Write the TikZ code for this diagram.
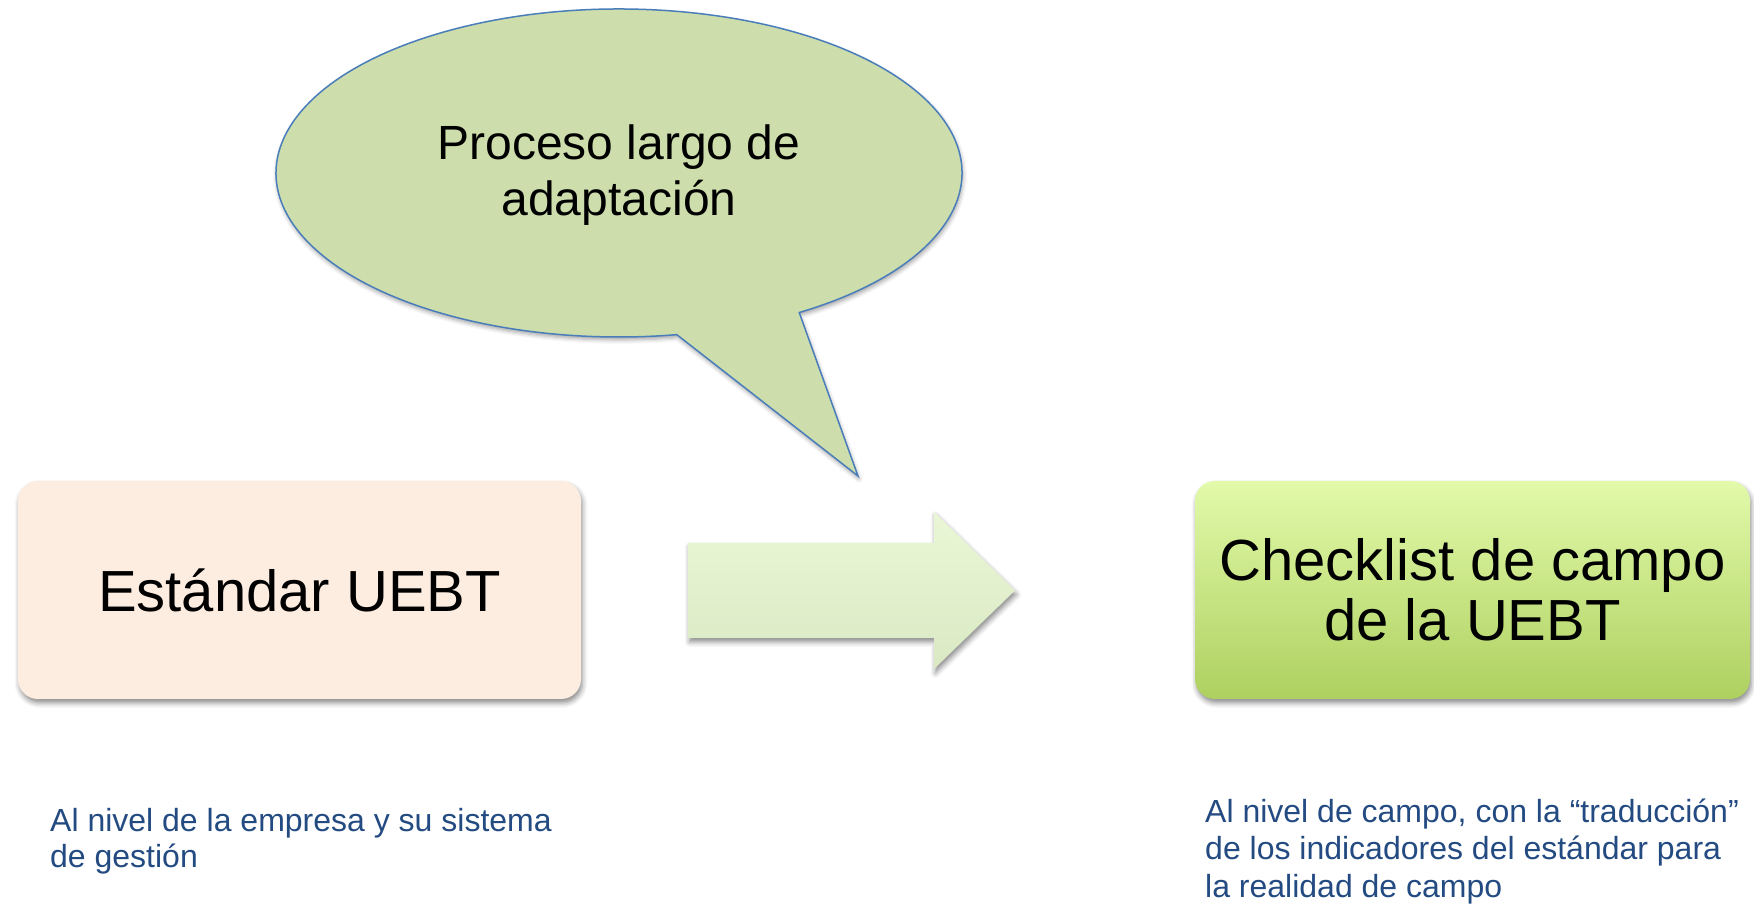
\documentclass[tikz,border=0pt]{standalone}
\usepackage{fontspec}
\setmainfont{Liberation Sans}
\usetikzlibrary{shadows.blur,calc}
\definecolor{boxpeach}{RGB}{253,237,225}
\definecolor{boxgreentop}{RGB}{226,250,170}
\definecolor{boxgreenbot}{RGB}{174,208,96}
\definecolor{bubblefill}{RGB}{205,221,171}
\definecolor{bubbleline}{RGB}{74,126,187}
\definecolor{arrowtop}{RGB}{234,247,214}
\definecolor{arrowbot}{RGB}{218,233,196}
\definecolor{notecolor}{RGB}{35,75,130}
\begin{document}
\begin{tikzpicture}[x=1pt,y=1pt,
  softshadow/.style={blur shadow={shadow xshift=1.5pt, shadow yshift=-4pt, shadow blur radius=5pt, shadow opacity=45}},
  card/.style={rounded corners=20pt, minimum height=218pt, inner sep=0pt, align=center,
    font=\fontsize{58}{60}\selectfont, softshadow},
  note/.style={anchor=base west, inner sep=0pt, text=notecolor, font=\fontsize{32}{38}\selectfont},
  bubbletext/.style={align=center, inner sep=0pt, font=\fontsize{48}{56}\selectfont}]
\useasboundingbox (0,0) rectangle (1754,903);

% speech bubble
\filldraw[fill=bubblefill, draw=bubbleline, line width=1.5pt,
  blur shadow={shadow xshift=1pt, shadow yshift=-3pt, shadow blur radius=4pt, shadow opacity=35}]
  ($(619,730)+(-58.3:343 and 164)$)
  arc[start angle=-58.3, end angle=279.7, x radius=343pt, y radius=164pt]
  -- (858,427) -- cycle;
\node[bubbletext] (bt) at (619,728) {Proceso largo de\\adaptación};

% boxes
\node[card, fill=boxpeach, minimum width=563pt] (std) at (299.5,313) {Estándar UEBT};
\node[card, top color=boxgreentop, bottom color=boxgreenbot, minimum width=555pt] (chk) at (1472.5,313) {Checklist de campo\\de la UEBT};

% block arrow
\shade[top color=arrowtop, bottom color=arrowbot, softshadow]
  (688,360) -- (934,360) -- (934,391) -- (1015,312.5) -- (934,234) -- (934,265) -- (688,265) -- cycle;

% notes
\node[note] (n1a) at (50,72) {Al nivel de la empresa y su sistema};
\node[note] (n1b) at (50,36) {de gestión};
\node[note] (n2a) at (1205,81) {Al nivel de campo, con la “traducción”};
\node[note] (n2b) at (1205,44) {de los indicadores del estándar para};
\node[note] (n2c) at (1205,6) {la realidad de campo};
\end{tikzpicture}
\end{document}
